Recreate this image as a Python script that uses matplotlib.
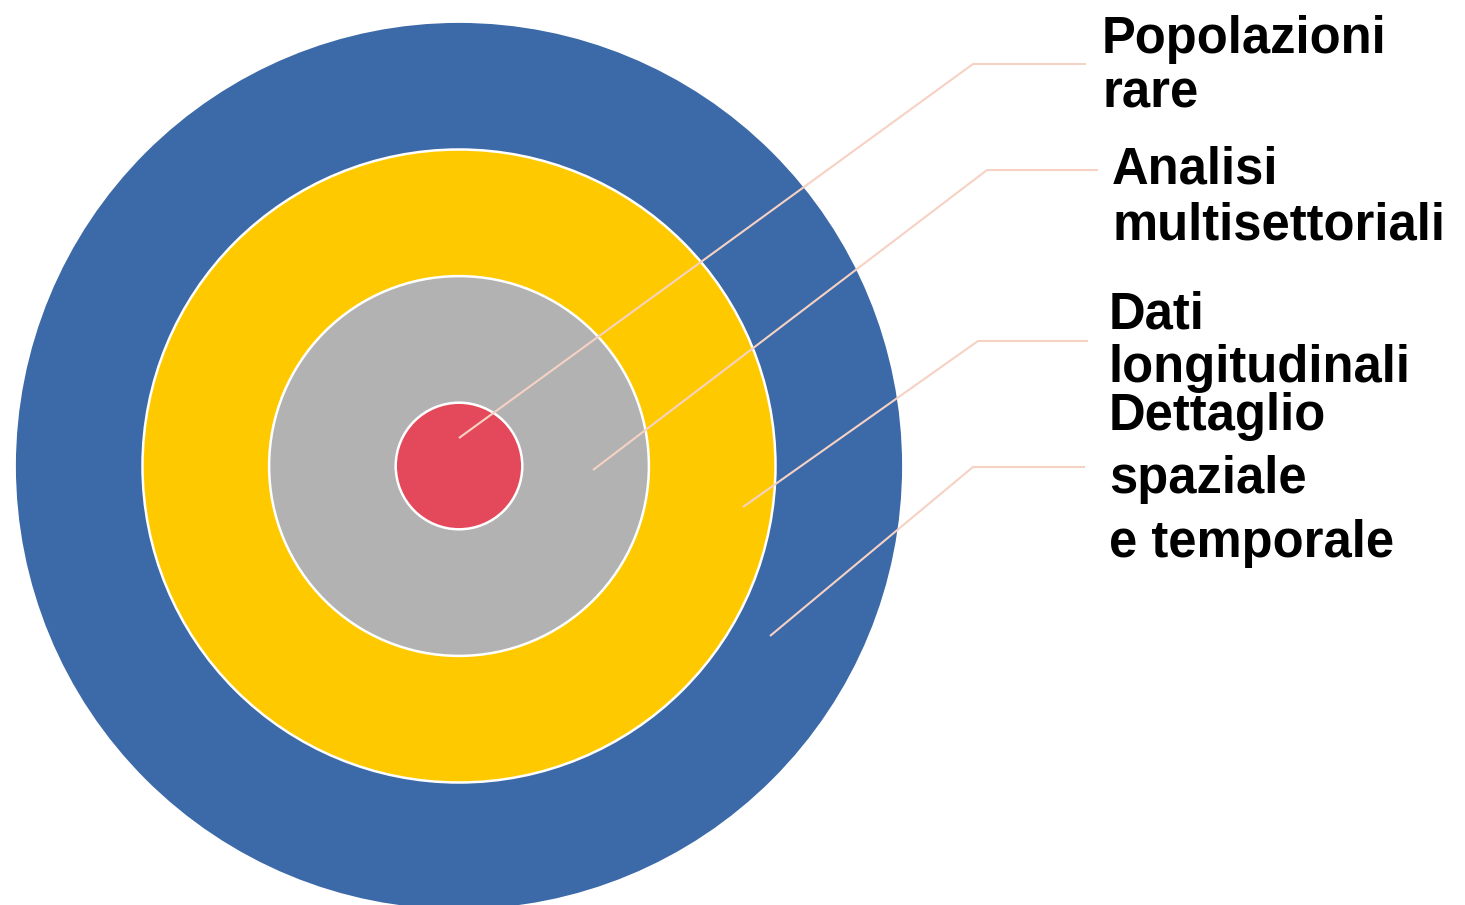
import matplotlib
matplotlib.use("Agg")
import matplotlib.pyplot as plt
from matplotlib.patches import Circle

# rings, from the outer one to the centre
labels = [
    ["Dettaglio", "spaziale", "e temporale"],
    ["Dati", "longitudinali"],
    ["Analisi", "multisettoriali"],
    ["Popolazioni", "rare"],
]
radius_units = [7, 5, 3, 1]
colors = ["#3C69A7", "#FFC900", "#B2B2B2", "#E4495B"]

# layout (pixels)
cx, cy = 459, 466
unit = 63.3
line_color = "#F6D2C4"
# leader line: start, elbow, end
leaders = [
    [(770, 636), (973, 467), (1085, 467)],
    [(743, 507), (978, 341), (1088, 341)],
    [(593, 470), (987, 170), (1098, 170)],
    [(459, 438), (973, 64), (1086, 64)],
]
text_x = [1109, 1109, 1112, 1102]
baselines = [[430, 493, 557], [328, 382], [184, 239], [53, 108]]

fig = plt.figure(figsize=(14.65, 9.05), dpi=100)
ax = fig.add_axes([0, 0, 1, 1])
ax.set_xlim(0, 1465)
ax.set_ylim(905, 0)
ax.axis("off")

for i, (r, c) in enumerate(zip(radius_units, colors)):
    ec = "none" if i == 0 else "white"
    ax.add_patch(Circle((cx, cy), r * unit, facecolor=c, edgecolor=ec, lw=1.8, zorder=1 + i))

for pts in leaders:
    xs = [p[0] for p in pts]
    ys = [p[1] for p in pts]
    ax.plot(xs, ys, color=line_color, lw=1.5, zorder=10, solid_capstyle="butt")

for lines, x, bls in zip(labels, text_x, baselines):
    for txt, y in zip(lines, bls):
        ax.text(x, y, txt, fontsize=36.5, fontweight="bold", family="Liberation Sans",
                va="baseline", ha="left", color="black", zorder=11)

fig.savefig("out.png", dpi=100)
